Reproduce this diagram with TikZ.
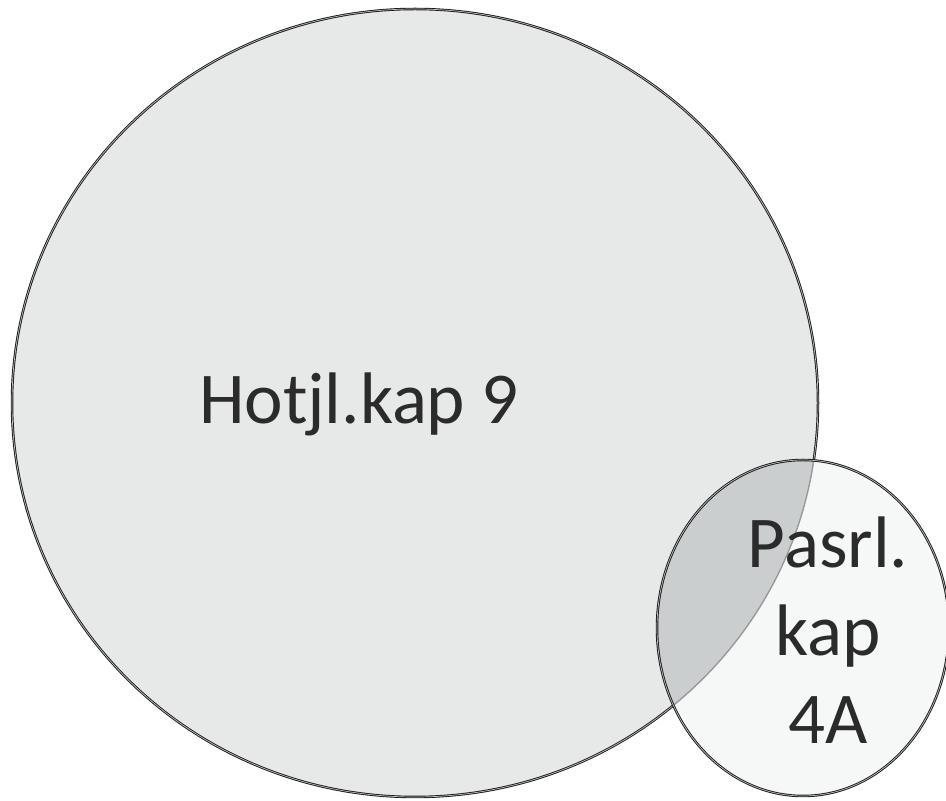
\documentclass[tikz,border=0pt]{standalone}
\usepackage{fontspec}
\setmainfont{Carlito}
\usepackage{xcolor}
\definecolor{hotjlgray}{HTML}{E7E9E9}
\definecolor{pasrlgray}{HTML}{F6F7F7}
\definecolor{overlapgray}{HTML}{CBCECE}
\definecolor{textgray}{HTML}{2B2B2B}

\begin{document}
\begin{tikzpicture}[x=1pt,y=1pt,
  ring/.style={draw=black!90, line width=0.9pt, double=black!25, double distance=0.7pt},
  label/.style={text=textgray, inner sep=0, font=\fontsize{73}{88}\selectfont}]
\useasboundingbox (0,0) rectangle (946,801);
\fill[white] (0,0) rectangle (946,801);
% big circle
\fill[hotjlgray] (415,398) ellipse [x radius=403, y radius=394];
\draw[ring] (415,398) ellipse [x radius=403, y radius=394];
% small circle on top
\fill[pasrlgray] (803,173) ellipse [x radius=146, y radius=168];
\begin{scope}
 \clip (415,398) ellipse [x radius=403, y radius=394];
 \fill[overlapgray] (803,173) ellipse [x radius=146, y radius=168];
\end{scope}
\begin{scope}
 \clip (803,173) ellipse [x radius=146, y radius=168];
 \draw[black!40, line width=1.4pt] (415,398) ellipse [x radius=403, y radius=394];
\end{scope}
\draw[ring] (803,173) ellipse [x radius=146, y radius=168];
% labels
\node[label, anchor=base] (hotjl) at (359,377) {Hotjl.kap 9};
\node[label, anchor=north, align=center] (pasrl) at (828,284) {Pasrl.\\kap\\4A};
\end{tikzpicture}
\end{document}
